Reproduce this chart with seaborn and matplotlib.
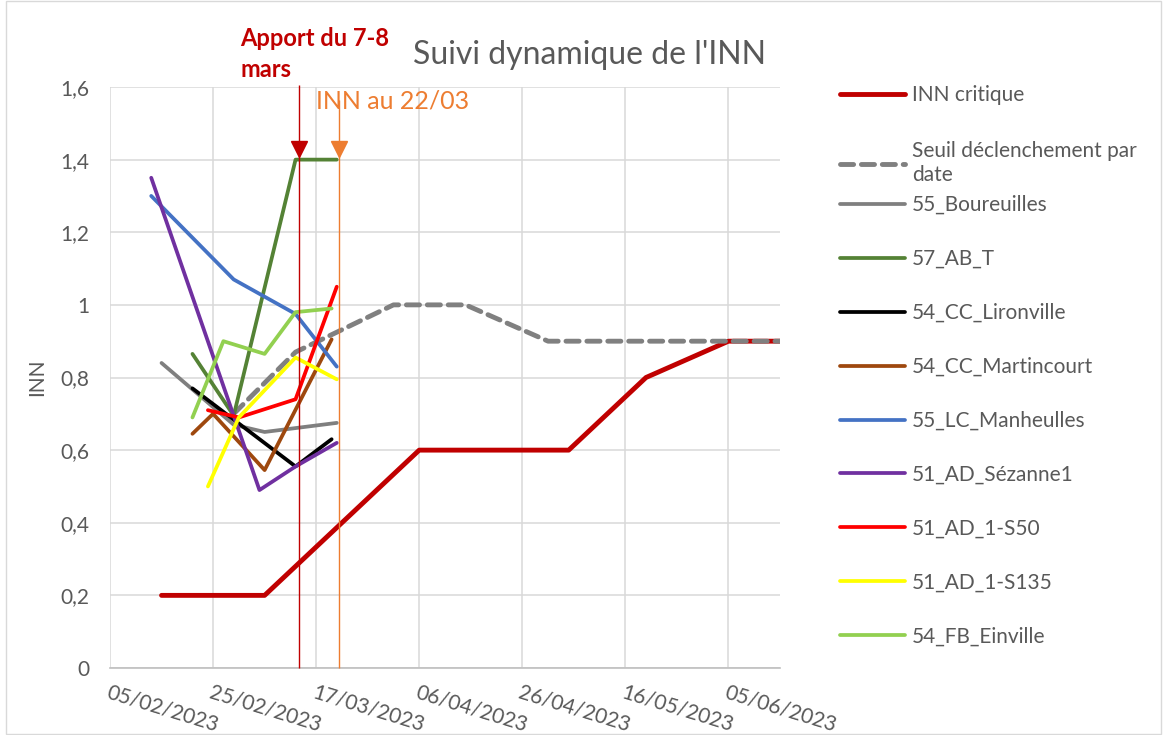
import pandas as pd
import matplotlib.pyplot as plt
import matplotlib.dates as mdates
import seaborn as sns
from matplotlib.patches import Rectangle

# series, in legend order
series_names = ["INN critique", "Seuil déclenchement par\ndate", "55_Boureuilles", "57_AB_T",
                "54_CC_Lironville", "54_CC_Martincourt", "55_LC_Manheulles", "51_AD_Sézanne1",
                "51_AD_1-S50", "51_AD_1-S135", "54_FB_Einville"]

inn_critique_dates = ["2023-02-15", "2023-03-07", "2023-03-22", "2023-04-06", "2023-05-05",
                      "2023-05-20", "2023-06-05", "2023-06-15"]
inn_critique = [0.2, 0.2, 0.4, 0.6, 0.6, 0.8, 0.9, 0.9]

seuil_dates = ["2023-03-01", "2023-03-13", "2023-04-01", "2023-04-15", "2023-05-01", "2023-06-15"]
seuil = [0.70, 0.87, 1.0, 1.0, 0.9, 0.9]

boureuilles_dates = ["2023-02-15", "2023-03-01", "2023-03-07", "2023-03-21"]
boureuilles = [0.84, 0.67, 0.65, 0.675]

ab_t_dates = ["2023-02-21", "2023-03-01", "2023-03-13", "2023-03-21"]
ab_t = [0.865, 0.695, 1.40, 1.40]

lironville_dates = ["2023-02-21", "2023-03-13", "2023-03-20"]
lironville = [0.77, 0.555, 0.63]

martincourt_dates = ["2023-02-21", "2023-02-25", "2023-03-07", "2023-03-20"]
martincourt = [0.645, 0.70, 0.545, 0.905]

manheulles_dates = ["2023-02-13", "2023-03-01", "2023-03-13", "2023-03-21"]
manheulles = [1.30, 1.07, 0.975, 0.83]

sezanne_dates = ["2023-02-13", "2023-03-06", "2023-03-13", "2023-03-21"]
sezanne = [1.35, 0.49, 0.555, 0.62]

s50_dates = ["2023-02-24", "2023-03-02", "2023-03-13", "2023-03-21"]
s50 = [0.71, 0.69, 0.74, 1.05]

s135_dates = ["2023-02-24", "2023-03-02", "2023-03-13", "2023-03-21"]
s135 = [0.50, 0.69, 0.855, 0.795]

einville_dates = ["2023-02-21", "2023-02-27", "2023-03-07", "2023-03-13", "2023-03-20"]
einville = [0.69, 0.90, 0.865, 0.98, 0.99]

colors = ["#C00000", "#808080", "#7F7F7F", "#548235", "#000000", "#9E480E",
          "#4472C4", "#7030A0", "#FF0000", "#FFFF00", "#92D050"]

apport_date = "2023-03-13 18:00"
inn_date = "2023-03-21 12:00"
tick_dates = ["2023-02-05", "2023-02-25", "2023-03-17", "2023-04-06", "2023-04-26", "2023-05-16", "2023-06-05"]

all_dates = [inn_critique_dates, seuil_dates, boureuilles_dates, ab_t_dates, lironville_dates,
             martincourt_dates, manheulles_dates, sezanne_dates, s50_dates, s135_dates, einville_dates]
all_values = [inn_critique, seuil, boureuilles, ab_t, lironville, martincourt, manheulles,
              sezanne, s50, s135, einville]

sns.set_theme(style="white")
plt.rcParams['font.family'] = ['Lato', 'DejaVu Sans']
txt = "#595959"

fig = plt.figure(figsize=(11.67, 7.35), dpi=100)
ax = fig.add_axes([110 / 1167, 1 - 668 / 735, 670 / 1167, 581 / 735])

lines = []
for name, d, v, c in zip(series_names, all_dates, all_values, colors):
    df = pd.DataFrame({"date": pd.to_datetime(d), "INN": v})
    lw = 3.5 if name in ("INN critique", series_names[1]) else 2.7
    sns.lineplot(data=df, x="date", y="INN", color=c, lw=lw, ax=ax, legend=False,
                 solid_capstyle="round")
    ln = ax.get_lines()[-1]
    if name == series_names[1]:
        ln.set_linestyle((0, (2.7, 1.6)))
        ln.set_dash_capstyle("round")
    lines.append(ln)

# vertical markers
ax.vlines(pd.Timestamp(apport_date), 0, 1.605, color="#C00000", lw=1, clip_on=False, zorder=5)
ax.vlines(pd.Timestamp(inn_date), 0, 1.565, color="#ED7D31", lw=1, clip_on=False, zorder=5)
ax.plot([pd.Timestamp(apport_date)], [1.428], marker="v", ms=11, color="#C00000", zorder=6)
ax.plot([pd.Timestamp(inn_date)], [1.428], marker="v", ms=11, color="#ED7D31", zorder=6)

ax.set_xlim(pd.Timestamp("2023-02-05"), pd.Timestamp("2023-06-15"))
ax.set_ylim(0, 1.6)
ax.set_xticks(pd.to_datetime(tick_dates))
ax.xaxis.set_major_formatter(mdates.DateFormatter("%d/%m/%Y"))
yt = [i * 0.2 for i in range(9)]
ax.set_yticks(yt)
ax.set_yticklabels([f"{t:.1f}".rstrip("0").rstrip(".").replace(".", ",") for t in yt])
ax.tick_params(axis="y", length=0, pad=15, labelsize=15, labelcolor=txt)
ax.tick_params(axis="x", length=0, pad=10, labelsize=15, labelcolor=txt)
for lab in ax.get_xticklabels():
    lab.set_rotation(-17)
    lab.set_ha("left")
    lab.set_va("top")
    lab.set_rotation_mode("anchor")

ax.grid(True, color="#D9D9D9", lw=1.1)
for s in ["left", "top", "right"]:
    ax.spines[s].set_visible(False)
ax.spines["bottom"].set_color("#BFBFBF")
ax.spines["bottom"].set_linewidth(1.2)
ax.set_xlabel("")
ax.set_ylabel("INN", color=txt, fontsize=15)
ax.yaxis.set_label_coords(-(110 - 47) / 670, 0.5)

fig.text(413 / 1167, 1 - 55 / 735, "Suivi dynamique de l'INN", fontsize=23, color=txt, va="center")
fig.text(240 / 1167, 1 - 27 / 735, "Apport du 7-8\nmars", fontsize=17, color="#C00000",
         fontweight="bold", va="top", linespacing=1.4)
fig.text(316 / 1167, 1 - 101 / 735, "INN au 22/03", fontsize=18, color="#ED7D31", va="center")

leg_kw = dict(loc="upper left", frameon=False, fontsize=15, handlelength=3.1,
              handletextpad=0.34, labelcolor=txt, borderaxespad=0, borderpad=0)
fig.legend(lines[:2], series_names[:2], bbox_to_anchor=(840 / 1167, 1 - 85 / 735),
           labelspacing=1.75, **leg_kw)
fig.legend(lines[2:], series_names[2:], bbox_to_anchor=(840 / 1167, 1 - 195 / 735),
           labelspacing=1.63, **leg_kw)

fig.add_artist(Rectangle((6 / 1167, 0.002), (1161 - 6) / 1167, 0.996, transform=fig.transFigure,
                         fill=False, edgecolor="#D9D9D9", lw=1))

fig.savefig("out.png", dpi=100)
